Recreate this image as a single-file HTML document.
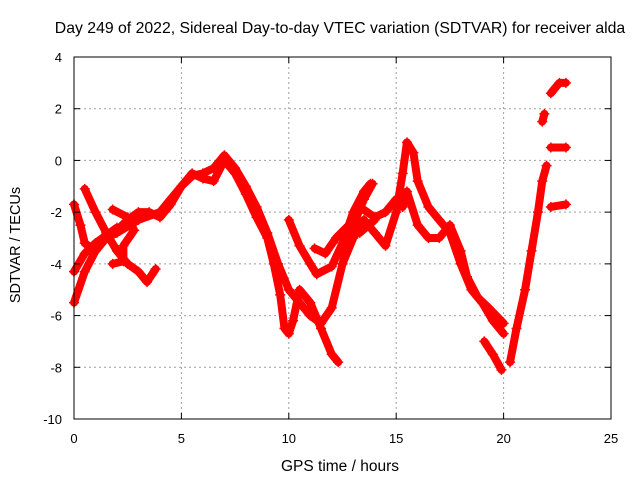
<!DOCTYPE html>
<html><head><meta charset="utf-8"><style>
body{margin:0;background:#fff}
svg text{font-family:"Liberation Sans",sans-serif;font-size:13px;fill:#000}
</style></head><body>
<svg id="chart" width="640" height="480" xmlns="http://www.w3.org/2000/svg">
<rect width="640" height="480" fill="#fff"/>
<text x="340" y="33" text-anchor="middle" style="font-size:15.8px">Day 249 of 2022, Sidereal Day-to-day VTEC variation (SDTVAR) for receiver alda</text>
<text x="340" y="471" text-anchor="middle" style="font-size:15.5px">GPS time / hours</text>
<text transform="translate(20,245) rotate(-90)" text-anchor="middle" style="font-size:14.5px">SDTVAR / TECUs</text>
<g id="grid"></g><g id="series"></g><g id="axes"></g>
</svg>
<script>
const xTicks=[0,5,10,15,20,25];
const yTicks=[4,2,0,-2,-4,-6,-8,-10];
const trackA=[[0,-5.5],[0.5,-4.3],[1,-3.5],[1.5,-3],[2,-2.8],[3,-2.3],[4,-2],[4.5,-1.5],[5,-1],[5.5,-0.6],[6,-0.5],[6.5,-0.3],[7,0.2],[7.5,-0.3],[8,-1],[8.5,-1.8],[9,-2.8],[9.5,-4],[10,-5],[10.5,-5.5],[11,-6],[11.5,-6.3],[12,-5.7],[12.5,-4],[13,-2.5],[13.5,-1.5],[13.9,-0.9]];
const trackB=[[0,-1.7],[0.3,-2.5],[0.5,-3.2],[1,-3.5],[1.5,-3],[2,-2.7],[2.5,-2.3],[3,-2],[3.5,-2],[4,-2.2],[4.5,-1.7],[5,-1],[5.5,-0.5],[6,-0.7],[6.5,-0.8],[7,0],[7.5,-0.5],[8,-1.3],[8.5,-2.2],[9,-3],[9.3,-4],[9.6,-5.2],[9.8,-6.5],[10,-6.7],[10.2,-6.2],[10.5,-5],[11,-5.5],[11.5,-6.5],[12,-7.5],[12.3,-7.8]];
const trackC=[[0.5,-1.1],[1,-2],[1.5,-2.8],[2,-3.5],[2.5,-4],[3,-4.3],[3.4,-4.7],[3.8,-4.2]];
const trackD=[[0,-4.3],[0.5,-3.6],[1,-3.2],[1.5,-2.9],[2,-2.6]];
const trackE=[[1.8,-1.9],[2.5,-2.2],[2.8,-2.7],[2.3,-3.3],[2.3,-3.9],[1.8,-4.0]];
const trackF=[[10,-2.3],[10.5,-3.3],[11,-4],[11.3,-4.4],[12,-4.1],[12.5,-3.2],[13,-2],[13.5,-1.2],[13.8,-0.9]];
const trackF2=[[11.2,-3.4],[11.7,-3.6],[12.2,-3],[12.8,-2.5],[13.3,-2.8],[14,-2.3]];
const trackG=[[12.5,-4],[13,-3],[13.5,-2.3],[14,-2.8],[14.5,-3.3],[15,-2],[15.3,-0.5],[15.5,0.7],[15.8,0.3],[16,-0.8],[16.5,-1.8],[17,-2.3],[17.5,-2.8],[18,-4],[18.5,-5],[19,-5.5],[19.5,-6.2],[20,-6.7]];
const trackH=[[13.3,-1.8],[14,-2.2],[14.5,-2],[15,-1.5],[15.3,-1.8],[15.5,-1.2],[16,-2.5],[16.5,-3],[17,-3],[17.5,-2.5],[18,-3.5],[18.3,-4.5],[18.8,-5.3],[19.3,-5.7],[20,-6.3]];
const trackI=[[19.1,-7],[19.5,-7.5],[19.9,-8.1]];
const trackJ=[[20.3,-7.8],[20.6,-6.5],[21,-5],[21.3,-3.5],[21.6,-2],[21.8,-0.8],[22,-0.2]];
const trackK=[[21.8,1.5],[21.9,1.8]];
const trackL=[[22.2,2.6],[22.6,3.0],[22.9,3.0]];
const trackM=[[22.2,0.5],[22.9,0.5]];
const trackN=[[22.2,-1.8],[22.9,-1.7]];
const tracks=[trackA,trackB,trackC,trackD,trackE,trackF,trackF2,trackG,trackH,trackI,trackJ,trackK,trackL,trackM,trackN];

const X0=74,X1=611,Y0=419,Y1=57;
const sx=h=>X0+(h-0)/25*(X1-X0);
const sy=v=>Y0-(v+10)/14*(Y0-Y1);
const NS="http://www.w3.org/2000/svg";
function mk(tag,attrs,parent){const e=document.createElementNS(NS,tag);for(const k in attrs)e.setAttribute(k,attrs[k]);parent.appendChild(e);return e;}
const grid=document.getElementById('grid'),axes=document.getElementById('axes'),ser=document.getElementById('series');
xTicks.forEach(t=>{
  if(t>0&&t<25){const g=mk('line',{x1:sx(t),x2:sx(t),y1:Y0,y2:Y1,stroke:'#a0a0a0','stroke-dasharray':'2,3'},grid);
  
  }
  const tk=mk('line',{x1:sx(t),x2:sx(t),y1:Y0,y2:Y0-6,stroke:'#000'},axes);
  
  
  const tk2=mk('line',{x1:sx(t),x2:sx(t),y1:Y1,y2:Y1+6,stroke:'#000'},axes);
  
  
  const l=mk('text',{x:sx(t),y:Y0+24,'text-anchor':'middle'},axes);l.textContent=t;
  
  
});
yTicks.forEach(t=>{
  if(t>-10&&t<4){const g=mk('line',{x1:X0,x2:X1,y1:sy(t),y2:sy(t),stroke:'#a0a0a0','stroke-dasharray':'2,3'},grid);
  
  }
  const tk=mk('line',{x1:X0,x2:X0+6,y1:sy(t),y2:sy(t),stroke:'#000'},axes);
  
  
  const tk2=mk('line',{x1:X1,x2:X1-6,y1:sy(t),y2:sy(t),stroke:'#000'},axes);
  
  
  const l=mk('text',{x:X0-12,y:sy(t)+5,'text-anchor':'end'},axes);l.textContent=t;
  
  
});
const fr=mk('rect',{x:X0,y:Y1,width:X1-X0,height:Y0-Y1,fill:'none',stroke:'#000'},axes);


tracks.forEach(tr=>{
  const p=mk('polyline',{points:tr.map(d=>sx(d[0])+','+sy(d[1])).join(' '),fill:'none',stroke:'#f00','stroke-width':8,'stroke-linejoin':'round','stroke-linecap':'round'},ser);
  
  
  tr.forEach(d=>{
    const m=mk('path',{d:`M${sx(d[0])-5},${sy(d[1])}h10M${sx(d[0])},${sy(d[1])-5}v10`,stroke:'#f00','stroke-width':1.5},ser);
    
    
  });
});
</script>
</body></html>
